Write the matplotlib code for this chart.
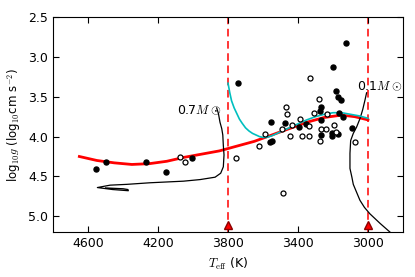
import matplotlib.pyplot as plt
import numpy as np

plt.rcParams['mathtext.fontset'] = 'cm'
plt.rcParams['font.size'] = 9

# stars with filled / open markers
teff_filled = [4556, 4497, 4270, 4156, 4007, 3741, 3560, 3549, 3556, 3476,
               3394, 3356, 3266, 3274, 3266, 3266, 3207, 3204, 3170, 3164,
               3141, 3157, 3170, 3183, 3202, 3128, 3093]
logg_filled = [4.41, 4.32, 4.32, 4.44, 4.27, 3.33, 4.07, 4.05, 3.82, 3.83,
               3.88, 3.84, 3.63, 3.68, 3.79, 3.98, 3.99, 3.95, 3.97, 3.70,
               3.76, 3.54, 3.50, 3.43, 3.13, 2.82, 3.89]

teff_open = [4074, 4046, 3753, 3622, 3589, 3487, 3470, 3461, 3491, 3434,
             3446, 3390, 3375, 3337, 3337, 3331, 3280, 3309, 3236, 3269,
             3240, 3194, 3183, 3274, 3072]
logg_open = [4.26, 4.32, 4.27, 4.12, 3.97, 4.71, 3.63, 3.72, 3.91, 3.85,
             3.99, 3.78, 3.99, 3.87, 3.99, 3.27, 3.53, 3.70, 3.71, 3.90,
             3.91, 3.86, 3.94, 4.06, 4.07]

# fit curves
teff_red = [4650, 4550, 4450, 4350, 4250, 4150, 4050, 3950, 3850, 3750,
            3650, 3550, 3450, 3350, 3250, 3150, 3075, 3000]
logg_red = [4.25, 4.30, 4.33, 4.35, 4.34, 4.31, 4.26, 4.22, 4.18, 4.12,
            4.06, 3.98, 3.90, 3.82, 3.76, 3.73, 3.75, 3.79]

teff_cyan = [3800, 3790, 3780, 3765, 3750, 3735, 3720, 3700, 3680, 3660,
             3640, 3620, 3600, 3580, 3550, 3500, 3450, 3400, 3350, 3300,
             3250, 3200, 3150, 3100, 3050, 3000]
logg_cyan = [3.33, 3.45, 3.55, 3.64, 3.71, 3.78, 3.83, 3.89, 3.93, 3.96,
             3.98, 4.00, 4.01, 4.01, 3.99, 3.94, 3.89, 3.84, 3.79, 3.75,
             3.72, 3.70, 3.70, 3.72, 3.74, 3.77]

# isochrone tracks
teff_07 = [3865, 3855, 3846, 3836, 3830, 3827, 3823, 3827, 3842, 3874,
           3960, 4055, 4246, 4379, 4474, 4547, 4460, 4370, 4372, 4400, 4500]
logg_07 = [3.64, 3.71, 3.82, 3.90, 3.98, 4.11, 4.23, 4.38, 4.46, 4.51,
           4.54, 4.56, 4.58, 4.60, 4.61, 4.64, 4.665, 4.68, 4.665, 4.655, 4.645]

teff_01 = [3008, 3017, 3030, 3045, 3065, 3084, 3099, 3103, 3103, 3092,
           3084, 3065, 3046, 3020, 2989, 2960, 2931, 2900, 2874]
logg_01 = [3.45, 3.54, 3.66, 3.77, 3.88, 3.96, 4.05, 4.21, 4.40, 4.51,
           4.60, 4.70, 4.80, 4.89, 4.97, 5.03, 5.09, 5.15, 5.20]

fig = plt.figure(figsize=(4.15, 2.77), dpi=100)
ax = fig.add_axes([0.128, 0.162, 0.843, 0.776])

ax.plot(teff_red, logg_red, color='red', lw=2, zorder=2)
ax.plot(teff_cyan, logg_cyan, color='c', lw=1.2, zorder=3)
ax.plot(teff_07, logg_07, color='k', lw=0.9, zorder=2)
ax.plot(teff_01, logg_01, color='k', lw=0.9, zorder=2)

ax.plot(teff_filled, logg_filled, 'o', color='k', ms=3.6, zorder=4)
ax.plot(teff_open, logg_open, 'o', mfc='white', mec='k', mew=0.9, ms=3.6, zorder=4)

for t in [3800, 3000]:
    ax.axvline(t, color='red', ls='--', lw=1.1, dashes=(5, 3), zorder=1)
ax.plot([3800, 3000], [5.11, 5.11], '^', color='red', mec='darkred', ms=5.5,
        zorder=5, clip_on=False)

ax.text(4090, 3.67, r'0.7$M\odot$', fontsize=9, va='center', ha='left')
ax.text(3065, 3.37, r'0.1$M\odot$', fontsize=9, va='center', ha='left')

ax.set_xlim(4800, 2800)
ax.set_ylim(5.2, 2.5)
ax.set_xticks([4600, 4200, 3800, 3400, 3000])
ax.set_yticks([2.5, 3.0, 3.5, 4.0, 4.5, 5.0])
ax.tick_params(direction='in', top=True, right=True, length=4)
ax.set_xlabel(r'$T_{\rm eff}$ (K)')
ax.set_ylabel(r'log$_{10}g$ (log$_{10}$cm s$^{-2}$)', fontsize=8.5)

fig.savefig('out.png', dpi=100)
